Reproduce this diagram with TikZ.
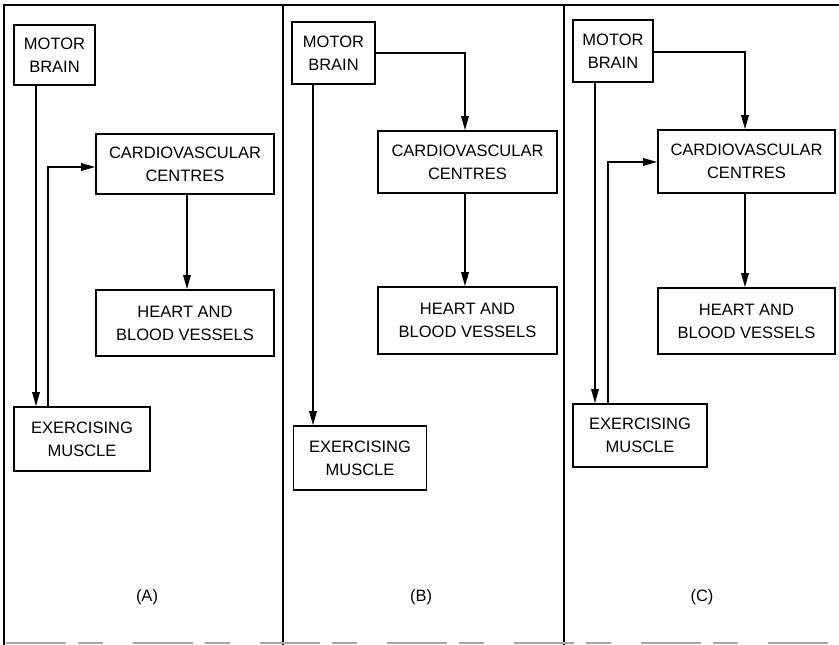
\documentclass[tikz,border=0pt]{standalone}
\usepackage{fontspec}
\setmainfont{Liberation Sans}
\usetikzlibrary{arrows.meta}
\begin{document}
\begin{tikzpicture}[x=1pt,y=-1pt,
  box/.style={draw,line width=1.6pt,align=center,inner sep=0pt,
    font=\fontsize{16.5}{23}\selectfont},
  arr/.style={line width=1.5pt,-{Triangle[length=14pt,width=7.5pt]}},
  frame/.style={line width=2pt},
  lab/.style={font=\fontsize{16.5}{19}\selectfont}]
\useasboundingbox (0,0) rectangle (839,645);
% frame
\draw[frame] (4,645) -- (4,5) -- (839,5);
\draw[frame] (283,5) -- (283,645);
\draw[frame] (564,5) -- (564,645);
\draw[line width=1.6pt,gray!70,dash pattern=on 60pt off 12pt on 25pt off 30pt] (6,643) -- (839,643);
% ---------- Panel A
\node[box,minimum width=81pt,minimum height=60pt] (mbA) at (54.5,55) {MOTOR\\BRAIN};
\node[box,minimum width=178pt,minimum height=60pt] (cvA) at (185,164) {CARDIOVASCULAR\\CENTRES};
\node[box,minimum width=178pt,minimum height=66pt] (hbA) at (185,323) {HEART AND\\BLOOD VESSELS};
\node[box,minimum width=136pt,minimum height=64pt] (emA) at (82,439) {EXERCISING\\MUSCLE};
\node[lab] (lA) at (147,597) {(A)};
\draw[arr] (36,0 |- mbA.south) -- (36,0 |- emA.north);
\coordinate (fA) at (48,167);
\draw[arr] (fA |- emA.north) -- (fA) -- (fA -| cvA.west);
\draw[arr] (187,0 |- cvA.south) -- (187,0 |- hbA.north);
% ---------- Panel B
\node[box,minimum width=83pt,minimum height=62pt] (mbB) at (333.5,53) {MOTOR\\BRAIN};
\node[box,minimum width=179pt,minimum height=62pt] (cvB) at (467.5,162) {CARDIOVASCULAR\\CENTRES};
\node[box,minimum width=179pt,minimum height=67pt] (hbB) at (467.5,320.5) {HEART AND\\BLOOD VESSELS};
\node[box,minimum width=133pt,minimum height=64pt] (emB) at (360,458) {EXERCISING\\MUSCLE};
\node[lab] (lB) at (421,597) {(B)};
\draw[arr] (313,0 |- mbB.south) -- (313,0 |- emB.north);
\coordinate (tB) at (465,53);
\draw[arr] (tB -| mbB.east) -- (tB) -- (tB |- cvB.north);
\draw[arr] (465,0 |- cvB.south) -- (465,0 |- hbB.north);
% ---------- Panel C
\node[box,minimum width=80pt,minimum height=62pt] (mbC) at (613,51) {MOTOR\\BRAIN};
\node[box,minimum width=177pt,minimum height=63pt] (cvC) at (746.5,161.5) {CARDIOVASCULAR\\CENTRES};
\node[box,minimum width=177pt,minimum height=66pt] (hbC) at (746.5,321) {HEART AND\\BLOOD VESSELS};
\node[box,minimum width=134pt,minimum height=63pt] (emC) at (640,435.5) {EXERCISING\\MUSCLE};
\node[lab] (lC) at (702,597) {(C)};
\draw[arr] (595,0 |- mbC.south) -- (595,0 |- emC.north);
\coordinate (tC) at (745,52);
\draw[arr] (tC -| mbC.east) -- (tC) -- (tC |- cvC.north);
\coordinate (fC) at (608,162);
\draw[arr] (fC |- emC.north) -- (fC) -- (fC -| cvC.west);
\draw[arr] (745,0 |- cvC.south) -- (745,0 |- hbC.north);
\end{tikzpicture}
\end{document}
